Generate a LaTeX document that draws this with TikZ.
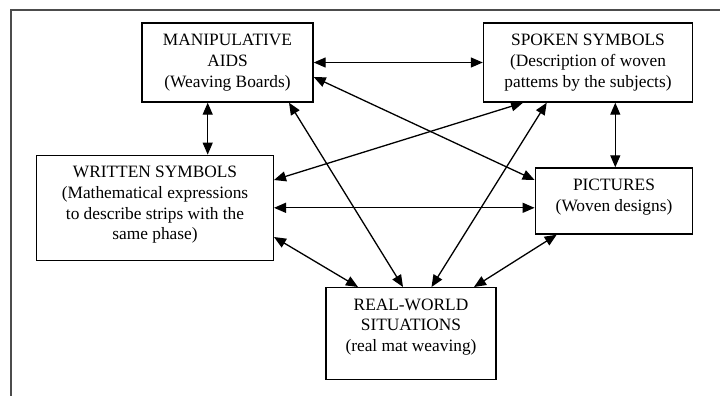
\documentclass[tikz,border=0pt]{standalone}
\usepackage{fontspec}
\setmainfont{Liberation Serif}
\newfontfamily\tnrfont{Liberation Serif}
\usetikzlibrary{arrows.meta}
\tikzset{
  box/.style={draw=black, line width=1.4bp, rectangle, inner sep=0pt},
  lbl/.style={align=center, inner sep=0pt, font=\tnrfont\fontsize{17.4}{20.8}\selectfont},
  link/.style={line width=1.3bp, {Triangle[length=12bp,width=10bp]}-{Triangle[length=12bp,width=10bp]}},
  frame/.style={draw=black!70, line width=1.8bp}
}
\begin{document}
\begin{tikzpicture}[x=1bp,y=-1bp]
\useasboundingbox (0,0) rectangle (720,396);
\fill[white] (0,0) rectangle (720,396);
\coordinate (ftr) at (720,10);
\coordinate (ftl) at (11,10);
\coordinate (fbl) at (11,396);
\draw[frame] (ftr) -- (ftl) -- (fbl);

\node[box, minimum width=171bp, minimum height=79bp] (man) at (227.5,62.5) {};
\node[box, minimum width=209bp, minimum height=79bp] (spk) at (588,62.5) {};
\node[box, minimum width=236.6bp, minimum height=105bp] (wri) at (155,207.8) {};
\node[box, minimum width=157.4bp, minimum height=66bp] (pic) at (614,201) {};
\node[box, minimum width=170bp, minimum height=92bp] (real) at (411,333.7) {};

\node[lbl] (mant) at (227.5,62.5) {MANIPULATIVE\\AIDS\\(Weaving Boards)};
\node[lbl] (spkt) at (588,62.5) {SPOKEN SYMBOLS\\(Description of woven\\pattems by the subjects)};
\node[lbl] (writ) at (155,205) {WRITTEN SYMBOLS\\(Mathematical expressions\\to describe strips with the\\same phase)};
\node[lbl] (pict) at (614,197) {PICTURES\\(Woven designs)};
\node[lbl] (realt) at (411,327) {REAL-WORLD\\SITUATIONS\\(real mat weaving)};

% connectors
\draw[link] (man.east) -- (spk.west);
\draw[link] ([xshift=-19.8bp]man.south) -- ([xshift=-19.8bp]man.south |- wri.north);
\draw[link] ([xshift=-24.7bp]man.south east) -- ([xshift=-8bp]real.north);
\draw[link] ([yshift=-14.5bp]man.east) -- ([yshift=21bp]pic.west);
\draw[link] ([yshift=27.8bp]wri.east) -- ([xshift=-65bp]spk.south);
\draw[link] (wri.east) -- (wri.east -| pic.west);
\draw[link] ([yshift=-29.2bp]wri.east) -- ([xshift=-53bp]real.north);
\draw[link] ([xshift=-57.3bp]pic.south) -- ([xshift=63bp]real.north);
\draw[link] ([xshift=27.3bp]spk.south) -- ([xshift=27.3bp]spk.south |- pic.north);
\draw[link] ([xshift=-41.3bp]spk.south) -- ([xshift=20.5bp]real.north);
\end{tikzpicture}
\end{document}
